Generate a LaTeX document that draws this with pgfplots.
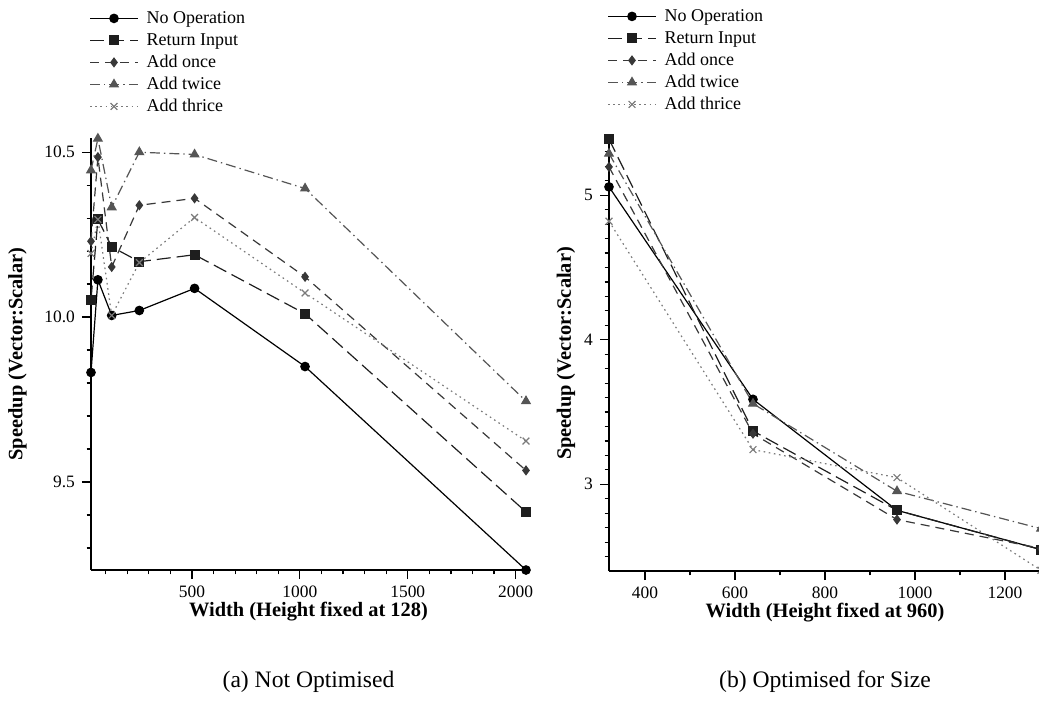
\documentclass[border=0pt]{standalone}
\usepackage{fontspec}
\setmainfont{Liberation Serif}
\usepackage{pgfplots}
\usepackage{pgfplotstable}
\pgfplotsset{compat=1.18}

% Speedup for images of fixed height 128, varying width
\pgfplotstableread{
w     noop    ret     once    twice   thrice
32    9.832   10.053  10.230  10.445  10.193
64    10.113  10.296  10.485  10.541  10.296
128   10.005  10.213  10.152  10.333  10.005
256   10.020  10.168  10.339  10.500  10.165
512   10.087  10.189  10.360  10.493  10.302
1024  9.850   10.010  10.122  10.390  10.073
2048  9.233   9.409   9.535   9.745   9.624
}\notopt

% Speedup for images of fixed height 960, optimised for size
\pgfplotstableread{
w     noop    ret     once    twice   thrice
320   5.058   5.388   5.196   5.288   4.820
640   3.588   3.369   3.350   3.558   3.240
960   2.820   2.820   2.756   2.952   3.046
1280  2.548   2.548   2.556   2.693   2.405
}\optsize

\definecolor{cret}{HTML}{1E1E1E}
\definecolor{conce}{HTML}{383838}
\definecolor{ctwice}{HTML}{555555}
\definecolor{cthrice}{HTML}{7A7A7A}

\newcommand\labelfont{\fontsize{10.2}{12}\selectfont\bfseries}

\pgfplotsset{
  speedup/.style={
    scale only axis,
    axis lines=left,
    axis line style={-, line width=0.6pt, black},
    enlargelimits=false,
    clip=false,
    tick align=outside,
    tick style={black, line width=0.6pt},
    major tick length=4.5pt,
    minor tick length=2.2pt,
    ticklabel style={font=\fontsize{8.7}{10}\selectfont},
    /pgf/number format/assume math mode=true,
    /pgf/number format/1000 sep={},
    every axis x label/.style={at={(axis description cs:0.5,0)}, anchor=center,
      yshift=-21pt, font=\labelfont},
    ylabel={\textbf{Speedup (Vector:Scalar)}},
    legend cell align=left,
    legend image code/.code={%
      \draw[mark repeat=2, mark phase=2, ##1]
        plot coordinates {(0pt,0pt) (12pt,0pt) (24pt,0pt)};},
    legend style={draw=none, fill=none, at={(axis description cs:0,1)},
      anchor=north west, yshift=65.5pt, xshift=-1pt,
      font=\fontsize{9}{9}\selectfont, inner sep=0pt,
      row sep=0pt,
      nodes={inner sep=1.5pt, text height=6.5pt, text depth=1.5pt},
      /tikz/every odd column/.append style={column sep=2.5pt}},
  },
  s noop/.style={black, solid, line width=0.6pt, mark=*, mark size=2.1pt,
    mark options={solid, fill=black}},
  s ret/.style={cret, dash pattern=on 7pt off 3pt, line width=0.6pt, mark=square*,
    mark size=2.2pt, mark options={solid, fill=cret}},
  s once/.style={conce, dash pattern=on 4.5pt off 3pt, line width=0.6pt, mark=diamond*,
    mark size=2.1pt, mark options={solid, fill=conce}},
  s twice/.style={ctwice, dash pattern=on 5pt off 2pt on 0.7pt off 2pt, line width=0.6pt,
    mark=triangle*, mark size=2.4pt, mark options={solid, fill=ctwice}},
  s thrice/.style={cthrice, dash pattern=on 0.8pt off 1.8pt, line width=0.6pt, mark=x,
    mark size=2.4pt, mark options={solid}},
}

\begin{document}
\begin{tikzpicture}
\path[use as bounding box] (0,0) rectangle (519.5pt,-351pt);

% (a) Not optimised
\begin{axis}[speedup,
  at={(45.5pt,-285pt)}, anchor=south west,
  width=217.5pt, height=216pt,
  xmin=32, xmax=2048, ymin=9.233, ymax=10.543,
  xtick={500,1000,1500,2000},
  minor xtick={100,200,300,400,600,700,800,900,1100,1200,1300,1400,1600,1700,1800,1900},
  ytick={9.5,10,10.5},
  minor ytick={9.3,9.4,9.6,9.7,9.8,9.9,10.1,10.2,10.3,10.4},
  yticklabel style={/pgf/number format/.cd, fixed, fixed zerofill, precision=1},
  every axis y label/.style={at={(axis description cs:-0.169,0.5)}, rotate=90,
    anchor=center, font=\labelfont},
  xlabel={\textbf{Width (Height fixed at 128)}},
]
\addplot[s noop] table[x=w, y=noop] {\notopt};
\addlegendentry{No Operation}
\addplot[s ret] table[x=w, y=ret] {\notopt};
\addlegendentry{Return Input}
\addplot[s once] table[x=w, y=once] {\notopt};
\addlegendentry{Add once}
\addplot[s twice] table[x=w, y=twice] {\notopt};
\addlegendentry{Add twice}
\addplot[s thrice] table[x=w, y=thrice] {\notopt};
\addlegendentry{Add thrice}
\end{axis}

% (b) Optimised for size
\begin{axis}[speedup,
  at={(304.5pt,-285.5pt)}, anchor=south west,
  width=216pt, height=217.5pt,
  xmin=320, xmax=1280, ymin=2.40, ymax=5.41,
  xtick={400,600,800,1000,1200},
  minor xtick={500,700,900,1100},
  ytick={3,4,5},
  minor ytick={2.5,2.6,2.7,2.8,2.9,3.1,3.2,3.3,3.4,3.5,3.6,3.7,3.8,3.9,4.1,4.2,4.3,4.4,4.5,4.6,4.7,4.8,4.9,5.1,5.2,5.3,5.4},
  every axis y label/.style={at={(axis description cs:-0.0995,0.5)}, rotate=90,
    anchor=center, font=\labelfont},
  xlabel={\textbf{Width (Height fixed at 960)}},
]
\addplot[s noop] table[x=w, y=noop] {\optsize};
\addlegendentry{No Operation}
\addplot[s ret] table[x=w, y=ret] {\optsize};
\addlegendentry{Return Input}
\addplot[s once] table[x=w, y=once] {\optsize};
\addlegendentry{Add once}
\addplot[s twice] table[x=w, y=twice] {\optsize};
\addlegendentry{Add twice}
\addplot[s thrice] table[x=w, y=thrice] {\optsize};
\addlegendentry{Add thrice}
\end{axis}

\node[font=\fontsize{11.8}{14}\selectfont] at (154.25pt,-341pt) {(a) Not Optimised};
\node[font=\fontsize{11.8}{14}\selectfont] at (412.5pt,-341pt) {(b) Optimised for Size};
\end{tikzpicture}
\end{document}
